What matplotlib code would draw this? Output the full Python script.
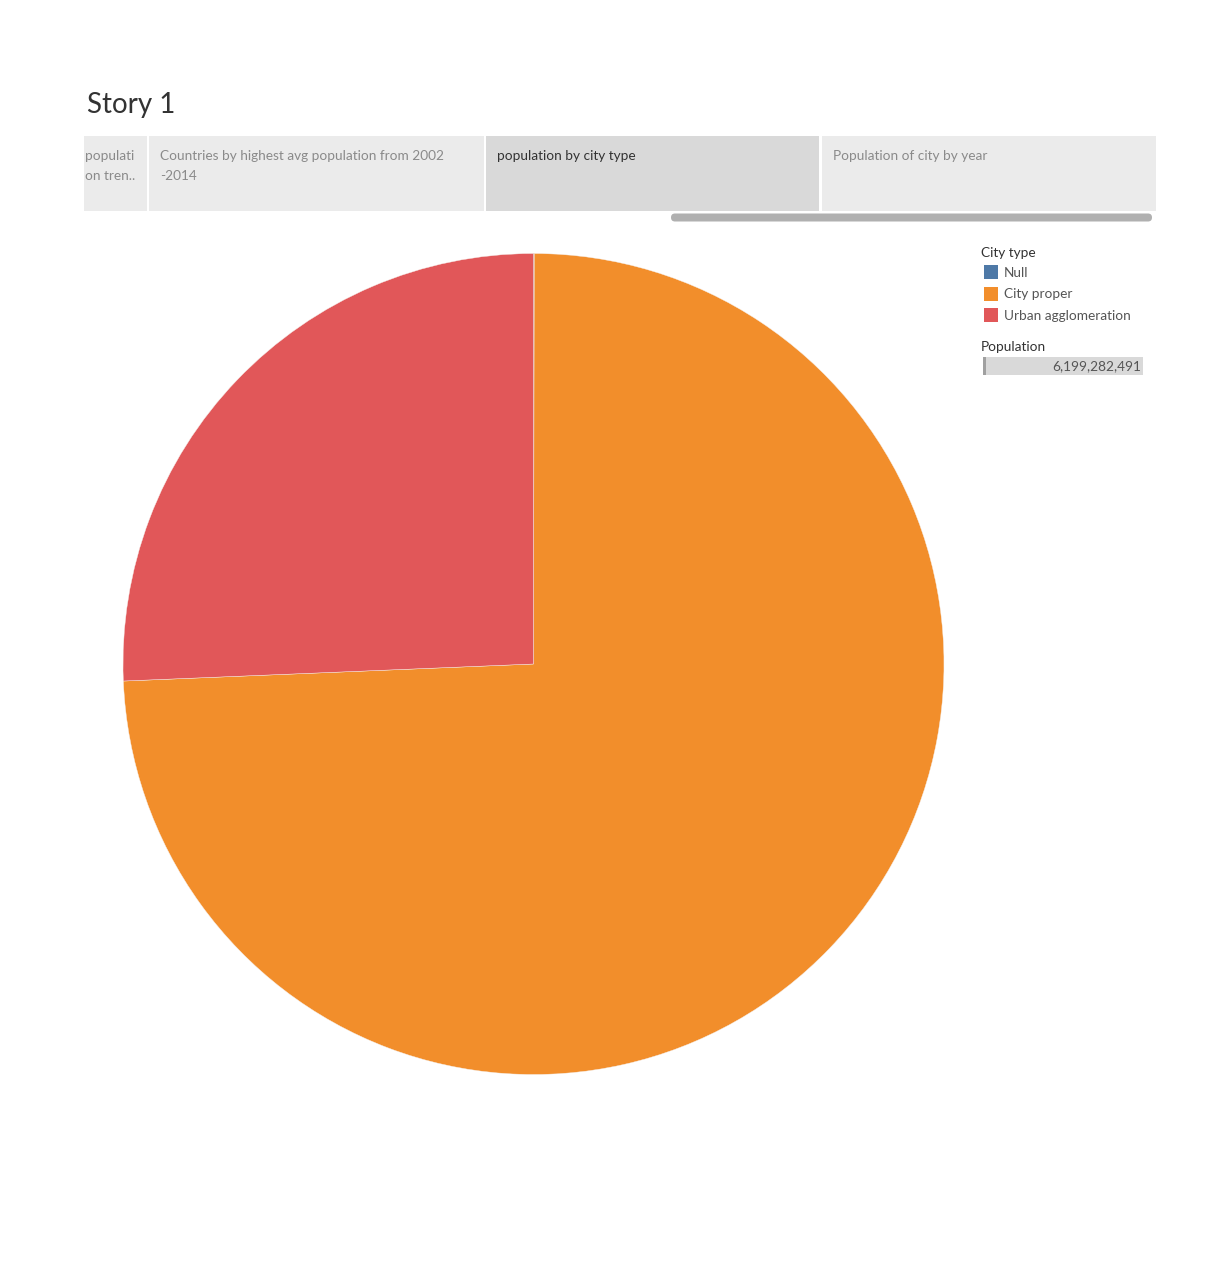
import matplotlib
matplotlib.use('Agg')
import matplotlib.pyplot as plt
from matplotlib.patches import Rectangle, FancyBboxPatch

# data
city_types = ['Null', 'City proper', 'Urban agglomeration']
population = [1850000, 4606632491, 1590800000]
colors = ['#4E79A7', '#F28E2B', '#E15759']

tab_labels = ['populati\non tren..', 'Countries by highest avg population from 2002\n-2014',
              'population by city type', 'Population of city by year']

W, H = 1214, 1262
plt.rcParams['font.family'] = ['Lato', 'DejaVu Sans']

fig = plt.figure(figsize=(W / 100, H / 100), dpi=100)
fig.patch.set_facecolor('white')

# overlay in pixel coordinates
ov = fig.add_axes([0, 0, 1, 1])
ov.set_xlim(0, W)
ov.set_ylim(H, 0)
ov.axis('off')

ov.text(87, 105, 'Story 1', fontsize=20, color='#333333', va='center', ha='left')

# story tabs
tabs = [(84, 147), (149, 484), (486, 819), (822, 1156)]
for i, (x0, x1) in enumerate(tabs):
    fc = '#D9D9D9' if i == 2 else '#EBEBEB'
    ov.add_patch(Rectangle((x0, 136), x1 - x0, 75, facecolor=fc, edgecolor='none'))
    tx = x0 + 1 if i == 0 else x0 + 11
    col = '#333333' if i == 2 else '#8A8A8A'
    ov.text(tx, 150, tab_labels[i], fontsize=9.8, color=col, va='top', ha='left',
            linespacing=1.75)

# scroll bar
ov.add_patch(FancyBboxPatch((671, 213.5), 481, 8, boxstyle='round,pad=0,rounding_size=4',
                            facecolor='#B0B0B0', edgecolor='none', mutation_aspect=1))

# legend
ov.text(981, 253, 'City type', fontsize=9.8, color='#333333', va='center', ha='left')
for i, (lab, c) in enumerate(zip(city_types, colors)):
    y = 272 + i * 21.5
    ov.add_patch(Rectangle((984, y - 7), 14, 14, facecolor=c, edgecolor='none'))
    ov.text(1004, y + 1, lab, fontsize=9.8, color='#555555', va='center', ha='left')

ov.text(981, 347, 'Population', fontsize=9.8, color='#333333', va='center', ha='left')
ov.add_patch(Rectangle((983, 357), 160, 18, facecolor='#D9D9D9', edgecolor='none'))
ov.add_patch(Rectangle((983, 357), 2.5, 18, facecolor='#A0A0A0', edgecolor='none'))
ov.text(1141, 366.5, '{:,}'.format(sum(population)), fontsize=9.8, color='#555555',
        va='center', ha='right')

# pie
cx, cy, r = 533.5, 664, 410.5
ax = fig.add_axes([(cx - r) / W, (H - cy - r) / H, 2 * r / W, 2 * r / H])
ax.pie(population, colors=colors, startangle=90, counterclock=False, radius=1,
       wedgeprops=dict(linewidth=0.3, edgecolor='#F6F0EC'))
ax.set_xlim(-1, 1)
ax.set_ylim(-1, 1)
ax.set_aspect('equal')
ax.axis('off')

fig.savefig('out.png', dpi=100, facecolor='white')
